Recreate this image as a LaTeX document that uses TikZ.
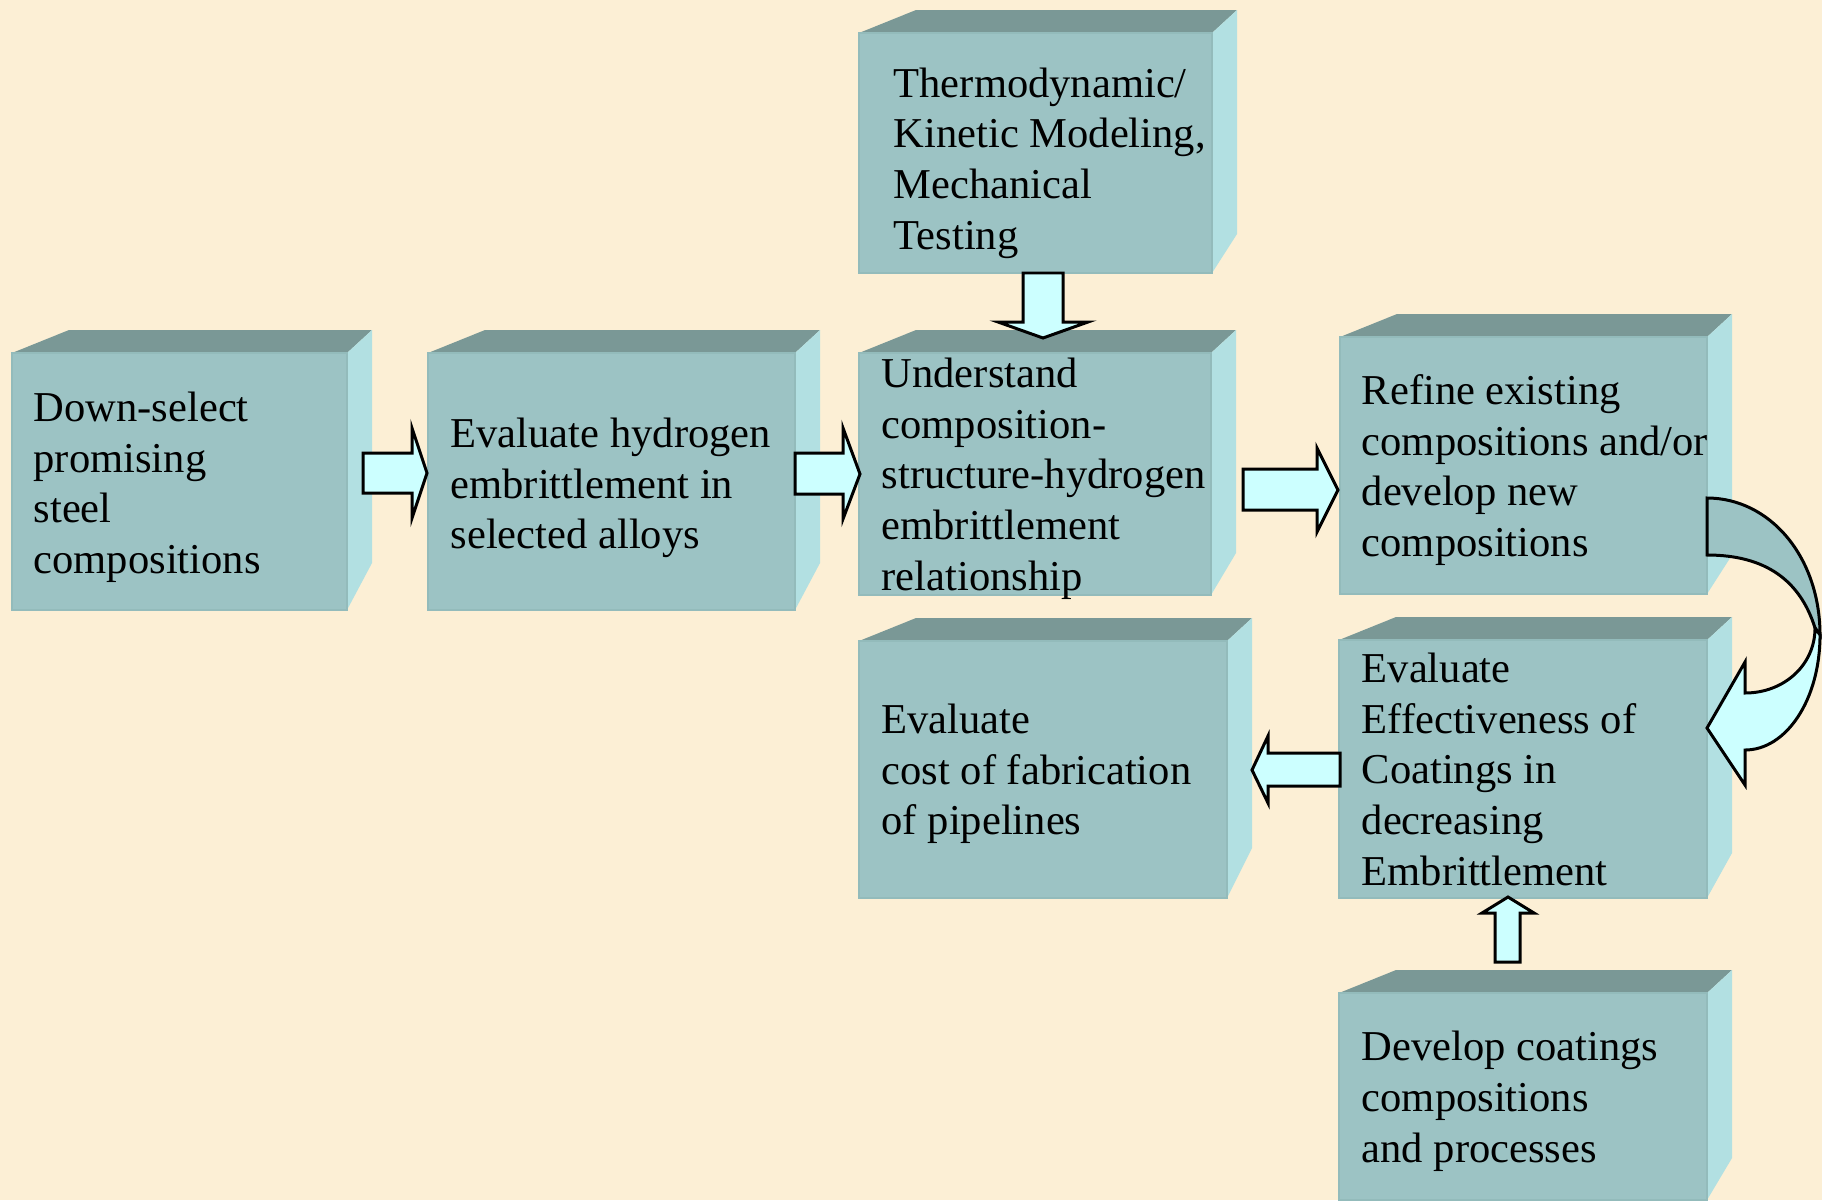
\documentclass[tikz,border=0pt]{standalone}
\usepackage{fontspec}
\setmainfont{Liberation Serif}
\usetikzlibrary{fit}
\definecolor{bgcream}{HTML}{FCEFD5}
\definecolor{frontc}{HTML}{9CC3C4}
\definecolor{frontedge}{HTML}{93BBBB}
\definecolor{topc}{HTML}{7A9896}
\definecolor{sidec}{HTML}{B2E0E2}
\definecolor{arrowc}{HTML}{CCFFFF}
\newcommand\boxfont{\fontsize{12.1pt}{14.5pt}\selectfont}
\tikzset{
  frontface/.style={fill=frontc, draw=frontedge, line width=0.4pt, inner sep=0pt},
  topface/.style={fill=topc},
  sideface/.style={fill=sidec},
  blockarrow/.style={fill=arrowc, draw=black, line width=0.85pt, line join=miter},
  bandarrow/.style={fill=frontc, draw=black, line width=0.85pt},
  boxlabel/.style={anchor=base west, inner sep=0pt, font=\boxfont}
}
% name, x1, y1, x2, y2, bottom rise of side (pixels, y downward)
\newcommand\boxcube[6]{%
  \fill[topface] (#2,#3) -- ({#2+57},{#3-23}) -- ({#4+25},{#3-23}) -- (#4,#3) -- cycle;
  \fill[sideface] (#4,#3) -- ({#4+25},{#3-23}) -- ({#4+25},{#5-#6}) -- (#4,#5) -- cycle;
  \coordinate (#1-nw) at (#2,#3);
  \coordinate (#1-se) at (#4,#5);
  \node[frontface, fit=(#1-nw)(#1-se)] (#1) {};
}
\newcommand\boxlabeltext[4]{%
  \node[boxlabel] (#1) at (#2,#3) {\parbox[t]{5cm}{\raggedright #4}};
}
\begin{document}
\begin{tikzpicture}[x=0.01cm, y=-0.01cm]
\useasboundingbox (0,0) rectangle (1822,1200);
\fill[bgcream] (0,0) rectangle (1822,1200);

% boxes
\boxcube{bsel}{12}{353}{347}{610}{47}
\boxcube{beval}{428}{353}{795}{610}{47}
\boxcube{bund}{859}{353}{1211}{595}{42}
\boxcube{bthermo}{859}{33}{1212}{273}{39}
\boxcube{brefine}{1340}{337}{1707}{594}{39}
\boxcube{beffect}{1339}{640}{1707}{898}{45}
\boxcube{bcost}{859}{641}{1227}{898}{50}
\boxcube{bdevelop}{1339}{993}{1707}{1200}{42}

% labels
\boxlabeltext{tsel}{33}{421}{Down-select\\promising\\steel\\compositions}
\boxlabeltext{teval}{450}{447}{Evaluate hydrogen\\embrittlement in\\selected alloys}
\boxlabeltext{tund}{881}{387}{Understand\\composition-\\structure-hydrogen\\embrittlement\\relationship}
\boxlabeltext{tthermo}{893}{97}{Thermodynamic/\\Kinetic Modeling,\\Mechanical\\Testing}
\boxlabeltext{trefine}{1361}{404}{Refine existing\\compositions and/or\\develop new\\compositions}
\boxlabeltext{teffect}{1361}{682}{Evaluate\\Effectiveness of\\Coatings in\\decreasing\\Embrittlement}
\boxlabeltext{tcost}{881}{733}{Evaluate\\cost of fabrication\\of pipelines}
\boxlabeltext{tdevelop}{1361}{1060}{Develop coatings\\compositions\\and processes}

% block arrows
\draw[blockarrow] (363,453) -- (412,453) -- (412,428) -- (427,473) -- (412,518) -- (412,493) -- (363,493) -- cycle;
\draw[blockarrow] (795,453) -- (843,453) -- (843,428) -- (860,474) -- (843,519) -- (843,494) -- (795,494) -- cycle;
\draw[blockarrow] (1243,469) -- (1317,469) -- (1317,448) -- (1338,490) -- (1317,532) -- (1317,510) -- (1243,510) -- cycle;
\draw[blockarrow] (1023,273) -- (1063,273) -- (1063,322) -- (1088,322) -- (1043,338) -- (998,322) -- (1023,322) -- cycle;
\draw[blockarrow] (1340,753) -- (1268,753) -- (1268,736) -- (1252,770) -- (1268,803) -- (1268,786) -- (1340,786) -- cycle;
\draw[blockarrow] (1495,962) -- (1495,913) -- (1482,913) -- (1508,897) -- (1534,913) -- (1520,913) -- (1520,962) -- cycle;

% curved arrow from refine to effectiveness
\draw[bandarrow] (1707,498) .. controls (1770,498) and (1820,557) .. (1820,635)
  -- (1815,628) .. controls (1800,580) and (1765,555) .. (1707,555) -- cycle;
\draw[blockarrow] (1815,628) .. controls (1815,665) and (1784,693) .. (1745,693)
  -- (1745,662) -- (1707,728) -- (1745,785) -- (1745,750)
  .. controls (1786,750) and (1820,700) .. (1820,635) -- cycle;
\end{tikzpicture}
\end{document}
